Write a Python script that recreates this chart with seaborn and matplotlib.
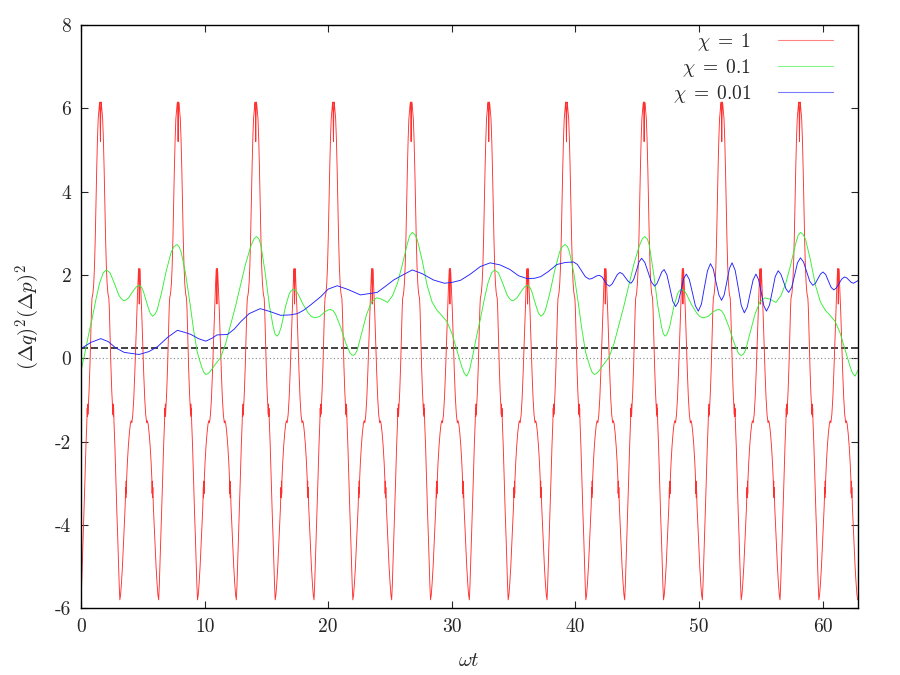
import numpy as np
import pandas as pd
import matplotlib
matplotlib.use('Agg')
import matplotlib.pyplot as plt
import seaborn as sns

sns.set_style('ticks')
# Computer Modern look (gnuplot/latex), hyphen minus as in the original
plt.rcParams['font.family'] = ['cmr10', 'DejaVu Serif']
plt.rcParams['mathtext.fontset'] = 'cm'
plt.rcParams['axes.unicode_minus'] = False
plt.rcParams['axes.formatter.use_mathtext'] = False

# --- chi = 1 : one period (0 .. 2pi), the trace repeats 10 times
red_phase = [0.000, 0.051, 0.111, 0.171, 0.241, 0.321, 0.401, 0.471, 0.501, 0.521,
             0.541, 0.561, 0.591, 0.651, 0.721, 0.791, 0.851, 0.891, 0.931, 0.971,
             1.031, 1.091, 1.151, 1.211, 1.271, 1.331, 1.391, 1.451, 1.491, 1.521,
             1.541, 1.571, 1.601, 1.621, 1.651, 1.691, 1.751, 1.811, 1.871, 1.931,
             1.991, 2.051, 2.111, 2.171, 2.211, 2.251, 2.291, 2.351, 2.421, 2.491,
             2.551, 2.581, 2.601, 2.621, 2.641, 2.671, 2.741, 2.821, 2.901, 2.971,
             3.031, 3.091, 3.142,
             3.202, 3.272, 3.352, 3.432, 3.512, 3.572, 3.612, 3.632, 3.652, 3.672,
             3.692, 3.752, 3.832, 3.912, 3.992, 4.052, 4.112, 4.192, 4.272, 4.352,
             4.432, 4.512, 4.592, 4.642, 4.667, 4.687, 4.712, 4.737, 4.757, 4.782,
             4.832, 4.912, 4.992, 5.072, 5.152, 5.232, 5.312, 5.372, 5.432, 5.512,
             5.592, 5.672, 5.732, 5.752, 5.772, 5.792, 5.812, 5.852, 5.912, 5.992,
             6.072, 6.152, 6.222]
red_period = [-5.80, -5.45, -4.90, -4.30, -3.70, -2.90, -2.10, -1.55, -1.20, -1.40,
              -1.10, -1.35, -1.15, -0.80, -0.20, 0.55, 1.20, 1.45, 1.50, 1.58,
              1.80, 2.20, 2.85, 3.70, 4.55, 5.25, 5.75, 5.95, 6.10, 6.15,
              5.90, 5.20, 5.90, 6.15, 6.10, 5.95, 5.75, 5.25, 4.55, 3.70,
              2.85, 2.20, 1.80, 1.58, 1.50, 1.45, 1.20, 0.55, -0.20, -0.80,
              -1.15, -1.35, -1.10, -1.40, -1.20, -1.55, -2.10, -2.90, -3.70, -4.30,
              -4.90, -5.45, -5.80,
              -5.68, -5.40, -5.00, -4.50, -3.95, -3.55, -3.10, -3.35, -2.95, -3.25,
              -2.90, -2.50, -2.10, -1.80, -1.58, -1.50, -1.55, -1.35, -0.95, -0.35,
              0.35, 1.10, 1.70, 2.05, 2.15, 1.90, 1.30, 1.90, 2.15, 2.05,
              1.70, 1.10, 0.35, -0.35, -0.95, -1.35, -1.55, -1.50, -1.58, -1.80,
              -2.10, -2.50, -2.90, -3.25, -2.95, -3.35, -3.10, -3.55, -3.95, -4.50,
              -5.00, -5.40, -5.68]
red_repeats = 10

# --- chi = 0.1 : one period (0 .. 10pi), repeats twice
green_phase = [0.00, 0.30, 0.60, 0.90, 1.20, 1.50, 1.80, 2.05, 2.35, 2.70,
               3.05, 3.25, 3.45, 3.65, 3.85, 4.30, 4.50, 4.71, 4.90, 5.05,
               5.40, 5.60, 5.79, 5.97, 6.15, 6.50, 6.90, 7.30, 7.52, 7.75,
               7.95, 8.10, 8.45, 8.80, 9.10, 9.40, 9.75, 9.92, 10.10, 10.27,
               10.45, 10.85, 11.30, 11.70, 12.10, 12.50, 12.90, 13.30, 13.75, 14.00,
               14.20, 14.40, 14.55, 14.90, 15.25, 15.55, 15.70, 15.85, 16.00, 16.20,
               16.55, 16.85, 17.00, 17.18, 17.37, 17.55, 17.95, 18.40, 18.65, 18.90,
               19.30, 19.75, 20.00, 20.20, 20.40, 20.60, 21.00, 21.40, 21.75, 21.90,
               22.03, 22.18, 22.35, 22.70, 23.10, 23.50, 23.90, 24.30, 24.80, 25.20,
               25.60, 26.00, 26.40, 26.60, 26.80, 27.00, 27.20, 27.60, 28.00, 28.40,
               28.80, 29.20, 29.60, 30.00, 30.40, 30.80, 31.00, 31.20]
green_period = [-0.30, 0.10, 0.55, 0.95, 1.40, 1.80, 2.05, 2.12, 2.05, 1.80,
                1.52, 1.43, 1.38, 1.40, 1.45, 1.65, 1.72, 1.75, 1.70, 1.60,
                1.25, 1.08, 1.01, 1.05, 1.15, 1.55, 2.10, 2.55, 2.68, 2.73,
                2.67, 2.55, 2.05, 1.35, 0.70, 0.15, -0.20, -0.33, -0.39, -0.37,
                -0.32, -0.15, 0.02, 0.35, 0.80, 1.25, 1.75, 2.25, 2.70, 2.87,
                2.92, 2.86, 2.72, 2.05, 1.25, 0.75, 0.58, 0.53, 0.58, 0.75,
                1.25, 1.55, 1.62, 1.66, 1.62, 1.55, 1.30, 1.08, 1.00, 0.97,
                1.00, 1.12, 1.16, 1.17, 1.14, 1.05, 0.75, 0.38, 0.13, 0.08,
                0.07, 0.10, 0.20, 0.60, 1.05, 1.35, 1.45, 1.42, 1.34, 1.50,
                1.80, 2.25, 2.75, 2.95, 3.02, 2.97, 2.85, 2.35, 1.75, 1.35,
                1.15, 1.02, 0.88, 0.60, 0.20, -0.20, -0.36, -0.43]
green_repeats = 2

# --- chi = 0.01
blue_t = [0.0, 0.8, 1.6, 2.2, 2.8, 3.5, 4.7, 5.5, 6.2, 7.0,
          7.8, 8.4, 8.9, 9.5, 10.1, 10.6, 11.0, 11.85, 12.4, 12.9,
          13.6, 14.5, 15.3, 16.15, 16.9, 17.5, 18.0, 18.58, 19.4, 20.0,
          20.73, 21.6, 22.6, 23.3, 23.96, 24.6, 25.3, 25.85, 26.8, 27.6,
          28.5, 29.4, 30.0, 30.7, 31.5, 32.3, 33.1, 33.9, 34.7, 35.4,
          36.1, 36.7, 37.2, 37.8, 38.5, 39.2, 39.85,
          40.16, 40.48, 40.79, 41.1, 41.31, 41.53, 41.74, 41.95, 42.15, 42.35,
          42.55, 42.75, 42.96, 43.18, 43.39, 43.6, 43.83, 44.05, 44.28, 44.5,
          44.71, 44.93, 45.14, 45.35, 45.61, 45.88, 46.14, 46.4, 46.59, 46.79,
          46.98, 47.17, 47.4, 47.64, 47.87, 48.1, 48.32, 48.54, 48.75, 48.97,
          49.21, 49.46, 49.7, 49.94, 50.19, 50.43, 50.68, 50.92, 51.15, 51.37,
          51.6, 51.82, 52.03, 52.25, 52.46, 52.67, 52.92, 53.17, 53.41, 53.66,
          53.9, 54.13, 54.37, 54.6, 54.81, 55.03, 55.24, 55.45, 55.69, 55.93,
          56.16, 56.4, 56.61, 56.83, 57.04, 57.25, 57.49, 57.73, 57.96, 58.2,
          58.45, 58.7, 58.95, 59.2, 59.41, 59.61, 59.82, 60.02, 60.24, 60.46,
          60.68, 60.9, 61.11, 61.33, 61.54, 61.75, 61.94, 62.13, 62.31, 62.5,
          62.83]
blue_v = [0.23, 0.38, 0.47, 0.40, 0.25, 0.14, 0.09, 0.16, 0.28, 0.50,
          0.67, 0.62, 0.57, 0.47, 0.41, 0.48, 0.56, 0.57, 0.70, 0.87,
          1.07, 1.19, 1.12, 1.03, 1.04, 1.07, 1.15, 1.28, 1.48, 1.66,
          1.74, 1.65, 1.52, 1.55, 1.58, 1.72, 1.88, 1.97, 2.12, 2.03,
          1.88, 1.80, 1.82, 1.87, 2.02, 2.20, 2.29, 2.24, 2.13, 1.98,
          1.91, 1.92, 1.96, 2.08, 2.25, 2.30, 2.31,
          2.25, 2.105, 1.96, 1.90, 1.91, 1.945, 1.98, 1.99, 1.95, 1.86,
          1.77, 1.73, 1.78, 1.895, 2.01, 2.06, 2.02, 1.93, 1.84, 1.80,
          1.89, 2.10, 2.31, 2.40, 2.30, 2.065, 1.83, 1.73, 1.79, 1.93,
          2.07, 2.13, 2.00, 1.685, 1.37, 1.24, 1.35, 1.63, 1.91, 2.02,
          1.89, 1.575, 1.26, 1.13, 1.30, 1.70, 2.10, 2.27, 2.14, 1.83,
          1.52, 1.39, 1.52, 1.84, 2.16, 2.29, 2.11, 1.69, 1.27, 1.09,
          1.23, 1.555, 1.88, 2.02, 1.89, 1.575, 1.26, 1.13, 1.27, 1.615,
          1.96, 2.10, 2.02, 1.84, 1.66, 1.58, 1.70, 1.995, 2.29, 2.41,
          2.31, 2.08, 1.85, 1.75, 1.80, 1.91, 2.02, 2.07, 2.01, 1.855,
          1.70, 1.64, 1.69, 1.795, 1.90, 1.95, 1.93, 1.875, 1.82, 1.80,
          1.86]

labels = [r'$\chi\;=\;1$', r'$\chi\;=\;0.1$', r'$\chi\;=\;0.01$']
colors = ['#ff3030', '#33ee33', '#2222ff']
bound = 0.25  # dashed line
x_max = 20 * np.pi

# build the long traces from the measured periods
red_t = np.concatenate([np.array(red_phase) + 2 * np.pi * k for k in range(red_repeats)] + [[x_max]])
red_v = np.concatenate([red_period] * red_repeats + [[red_period[0]]])
green_t = np.concatenate([np.array(green_phase) + 10 * np.pi * k for k in range(green_repeats)] + [[x_max]])
green_v = np.concatenate([green_period] * green_repeats + [[green_period[0]]])

df = pd.concat([
    pd.DataFrame({'t': red_t, 'v': red_v, 'chi': labels[0]}),
    pd.DataFrame({'t': green_t, 'v': green_v, 'chi': labels[1]}),
    pd.DataFrame({'t': blue_t, 'v': blue_v, 'chi': labels[2]}),
])

fig, ax = plt.subplots(figsize=(9, 6.75), dpi=100)
fig.subplots_adjust(left=0.09, right=0.953, bottom=0.099, top=0.963)

for lab, col in zip(labels, colors):
    d = df[df['chi'] == lab]
    sns.lineplot(data=d, x='t', y='v', color=col, lw=0.65, label=lab,
                 estimator=None, sort=False, ax=ax)

ax.axhline(bound, color='#222222', lw=1.2, ls=(0, (4.2, 1.8)), zorder=1)
ax.axhline(0, color='#888888', lw=0.8, ls=(0, (1, 2.2)), zorder=1)

ax.set_xlim(0, x_max)
ax.set_ylim(-6, 8)
ax.set_xticks(range(0, 61, 10))
ax.set_yticks(range(-6, 9, 2))
ax.tick_params(direction='in', length=5, width=0.8, top=True, right=True,
               labelsize=14, pad=7)
for sp in ax.spines.values():
    sp.set_linewidth(1.0)
    sp.set_color('black')

ax.set_xlabel(r'$\omega t$', fontsize=15, labelpad=12)
ax.set_ylabel(r'$(\Delta q)^2(\Delta p)^2$', fontsize=15, labelpad=9)

leg = ax.legend(loc='upper right', bbox_to_anchor=(0.968, 0.99), frameon=False,
                markerfirst=False, handlelength=2.8, handletextpad=1.4,
                labelspacing=0.2, borderaxespad=0, borderpad=0, fontsize=14)
for line in leg.get_lines():
    line.set_linewidth(0.8)
    line.set_alpha(0.6)

fig.savefig('out.png', dpi=100)
